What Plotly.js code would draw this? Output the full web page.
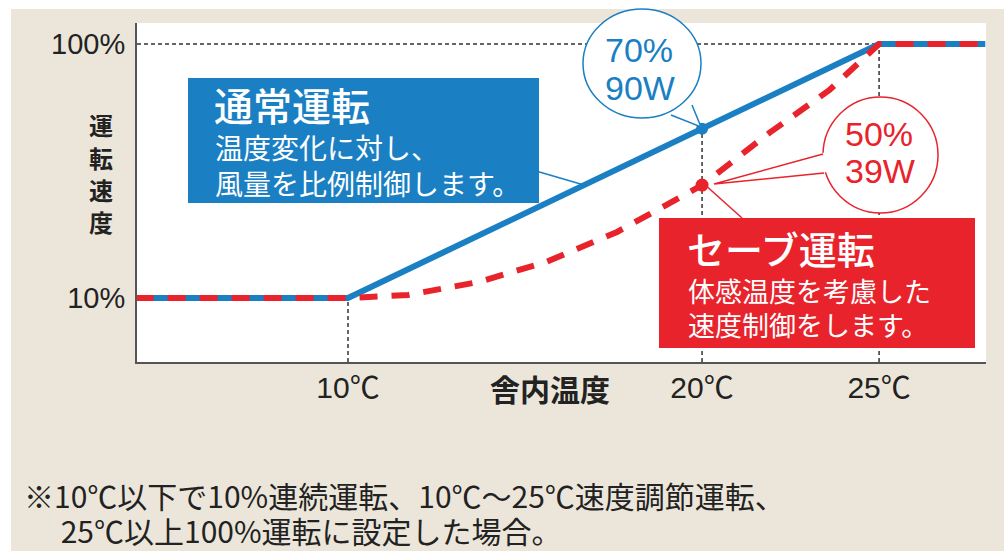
<!DOCTYPE html>
<html>
<head>
<meta charset="utf-8">
<script src="https://cdn.plot.ly/plotly-3.0.1.min.js"></script>
<style>html,body{margin:0;padding:0;background:#fff;}#chart{width:1004px;height:551px;}</style>
</head>
<body>
<div id="chart"></div>
<script>
// ---- data ----
const tempTicks = [10, 20, 25];
const tempTickLabels = ['10℃', '20℃', '25℃'];
const speedTicks = [10, 100];
const speedTickLabels = ['10%', '100%'];
const normalTemp = [4, 10, 25, 28];
const normalSpeed = [10, 10, 100, 100];
const saveTemp = [4, 10, 11.7, 13.7, 15.6, 17.6, 19.4, 20, 21.9, 23.6, 25, 28];
const saveSpeed = [10, 10, 11.1, 15.7, 22.8, 33.4, 45.8, 50, 68.5, 83.7, 100, 100];
const pointTemp = [20];
const normalPoint = [70];
const savePoint = [50];
const normalLabel = ['70%', '90W'];
const saveLabel = ['50%', '39W'];
const normalTitle = '通常運転';
const normalBody = ['温度変化に対し、', '風量を比例制御します。'];
const saveTitle = 'セーブ運転';
const saveBody = ['体感温度を考慮した', '速度制御をします。'];
const yTitle = '運転速度';
const xTitle = '舎内温度';
const notes = ['※10℃以下で10%連続運転、10℃～25℃速度調節運転、', '25℃以上100%運転に設定した場合。'];

// ---- layout helpers (pixel -> paper) ----
const L = 137, R = 986, T = 23, B = 362;
const px = x => (x - L) / (R - L);
const py = y => (B - y) / (B - T);
const Y_MIN = -12.68, Y_MAX = 107.44, X_MIN = 4.04, X_MAX = 28.02;

const BLUE = '#1a7fc3', RED = '#e8232b', BEIGE = '#ece6da', DARK = '#222';
const JP = '"Noto Sans CJK JP", sans-serif';
const LAT = '"Liberation Sans", Arial, "Noto Sans CJK JP", sans-serif';
const NARROW = '"Liberation Sans Narrow", "Noto Sans CJK JP", sans-serif';

const traces = [
  {x: normalTemp, y: normalSpeed, mode: 'lines', line: {color: BLUE, width: 6}, hoverinfo: 'skip'},
  {x: saveTemp, y: saveSpeed, mode: 'lines', line: {color: RED, width: 6, dash: '18px,14px'}, hoverinfo: 'skip'},
  {x: pointTemp, y: normalPoint, mode: 'markers', marker: {color: BLUE, size: 12}, hoverinfo: 'skip'},
  {x: pointTemp, y: savePoint, mode: 'markers', marker: {color: RED, size: 13}, hoverinfo: 'skip'}
];

const dashLine = {color: '#333', width: 1.5, dash: '4px,3px'};
const shapes = [
  // white outer strips
  {type: 'rect', xref: 'paper', yref: 'paper', x0: px(0), x1: px(1004), y0: py(9), y1: py(0), fillcolor: '#fff', line: {width: 0}, layer: 'below'},
  {type: 'rect', xref: 'paper', yref: 'paper', x0: px(0), x1: px(11), y0: py(551), y1: py(0), fillcolor: '#fff', line: {width: 0}, layer: 'below'},
  // guide lines
  {type: 'line', xref: 'x', yref: 'y', x0: tempTicks[0], x1: tempTicks[0], y0: Y_MIN, y1: normalSpeed[1], line: dashLine, layer: 'below'},
  {type: 'line', xref: 'x', yref: 'y', x0: pointTemp[0], x1: pointTemp[0], y0: Y_MIN, y1: normalPoint[0], line: dashLine, layer: 'below'},
  {type: 'line', xref: 'x', yref: 'y', x0: tempTicks[2], x1: tempTicks[2], y0: Y_MIN, y1: speedTicks[1], line: dashLine, layer: 'below'},
  {type: 'line', xref: 'x', yref: 'y', x0: X_MIN, x1: tempTicks[2], y0: speedTicks[1], y1: speedTicks[1], line: dashLine, layer: 'below'},
  // boxes
  {type: 'rect', xref: 'paper', yref: 'paper', x0: px(188), x1: px(539), y0: py(203), y1: py(78), fillcolor: BLUE, line: {width: 0}},
  {type: 'rect', xref: 'paper', yref: 'paper', x0: px(659), x1: px(975), y0: py(348), y1: py(218), fillcolor: RED, line: {width: 0}},
  // connectors
  {type: 'line', xref: 'paper', yref: 'paper', x0: px(536), y0: py(171), x1: px(584), y1: py(185), line: {color: BLUE, width: 1.5}},
  {type: 'line', xref: 'paper', yref: 'paper', x0: px(703), y0: py(183), x1: px(742), y1: py(218), line: {color: RED, width: 1.5}},
  // callout circles
  {type: 'circle', xref: 'paper', yref: 'paper', x0: px(583), x1: px(701), y0: py(118), y1: py(9), fillcolor: '#fff', line: {color: BLUE, width: 1.5}},
  {type: 'path', xref: 'paper', yref: 'paper',
   path: `M ${px(671)} ${py(113)} L ${px(701)} ${py(127)} L ${px(691)} ${py(103)} Z`, fillcolor: '#fff', line: {width: 0}},
  {type: 'path', xref: 'paper', yref: 'paper',
   path: `M ${px(671)} ${py(115)} L ${px(701)} ${py(127)} L ${px(692)} ${py(105)}`, line: {color: BLUE, width: 1.5}},
  {type: 'circle', xref: 'paper', yref: 'paper', x0: px(823), x1: px(938), y0: py(213), y1: py(97), fillcolor: '#fff', line: {color: RED, width: 1.5}},
  {type: 'path', xref: 'paper', yref: 'paper',
   path: `M ${px(826)} ${py(152)} L ${px(714)} ${py(184)} L ${px(828)} ${py(172)} Z`, fillcolor: '#fff', line: {width: 0}},
  {type: 'path', xref: 'paper', yref: 'paper',
   path: `M ${px(823)} ${py(154)} L ${px(714)} ${py(184)} L ${px(824)} ${py(173)}`, line: {color: RED, width: 1.5}}
];

function ann(text, x, y, size, color, family, opts) {
  return Object.assign({text: text, xref: 'paper', yref: 'paper', x: px(x), y: py(y), showarrow: false,
    xanchor: 'left', yanchor: 'middle', align: 'left', font: {size: size, color: color, family: family}}, opts || {});
}
// two lines in one text; base size sets the line pitch (1.3em), span size sets glyph size
const twoLines = (a, b, glyph) => `<span style="font-size:${glyph}px">${a}</span><br><span style="font-size:${glyph}px">${b}</span>`;

const annotations = [
  ann(normalTitle, 212, 104, 39, '#fff', JP, {font: {size: 39, color: '#fff', family: JP, weight: 500}}),
  ann(twoLines(normalBody[0], normalBody[1], 28), 213, 165, 27.7, '#fff', JP),
  ann(saveTitle, 685, 248, 38, '#fff', JP, {font: {size: 38, color: '#fff', family: JP, weight: 500}}),
  ann(twoLines(saveBody[0], saveBody[1], 27), 686, 307, 26, '#fff', JP),
  ann(normalLabel[0], 639, 50, 34, BLUE, LAT, {xanchor: 'center'}),
  ann(normalLabel[1], 640, 88, 34, BLUE, LAT, {xanchor: 'center'}),
  ann(saveLabel[0], 879, 134, 34, RED, LAT, {xanchor: 'center'}),
  ann(saveLabel[1], 880, 171, 34, RED, LAT, {xanchor: 'center'}),
  ann(xTitle, 550, 388, 30, DARK, JP, {xanchor: 'center', font: {size: 30, color: DARK, family: JP, weight: 700}}),
  ann(twoLines(notes[0], '　&nbsp;' + notes[1], 30), 22, 512, 27, DARK, NARROW)
];
// vertical y-axis title, one character per line
const yChars = yTitle.split('');
const yCharCenters = [124, 157, 189, 222];
yChars.forEach((c, i) => annotations.push(
  ann(c, 101, yCharCenters[i], 24, DARK, JP, {xanchor: 'center', font: {size: 24, color: DARK, family: JP, weight: 700}})));

const layout = {
  width: 1004, height: 551,
  margin: {l: L, r: 1004 - R, t: T, b: 551 - B, pad: 0},
  paper_bgcolor: BEIGE, plot_bgcolor: '#fff',
  showlegend: false,
  xaxis: {range: [X_MIN, X_MAX], tickvals: tempTicks, ticktext: tempTickLabels, showgrid: false, zeroline: false,
    showline: true, linecolor: '#555', linewidth: 2, ticks: '', ticklabelstandoff: -2,
    tickfont: {size: 30, color: DARK, family: LAT}, fixedrange: true},
  yaxis: {range: [Y_MIN, Y_MAX], tickvals: speedTicks, ticktext: speedTickLabels, showgrid: false, zeroline: false,
    showline: true, linecolor: '#555', linewidth: 2, ticks: '', ticklabelstandoff: 4,
    tickfont: {size: 29, color: DARK, family: LAT}, fixedrange: true},
  shapes: shapes,
  annotations: annotations
};

Plotly.newPlot('chart', traces, layout, {staticPlot: true, displayModeBar: false});
</script>
</body>
</html>
